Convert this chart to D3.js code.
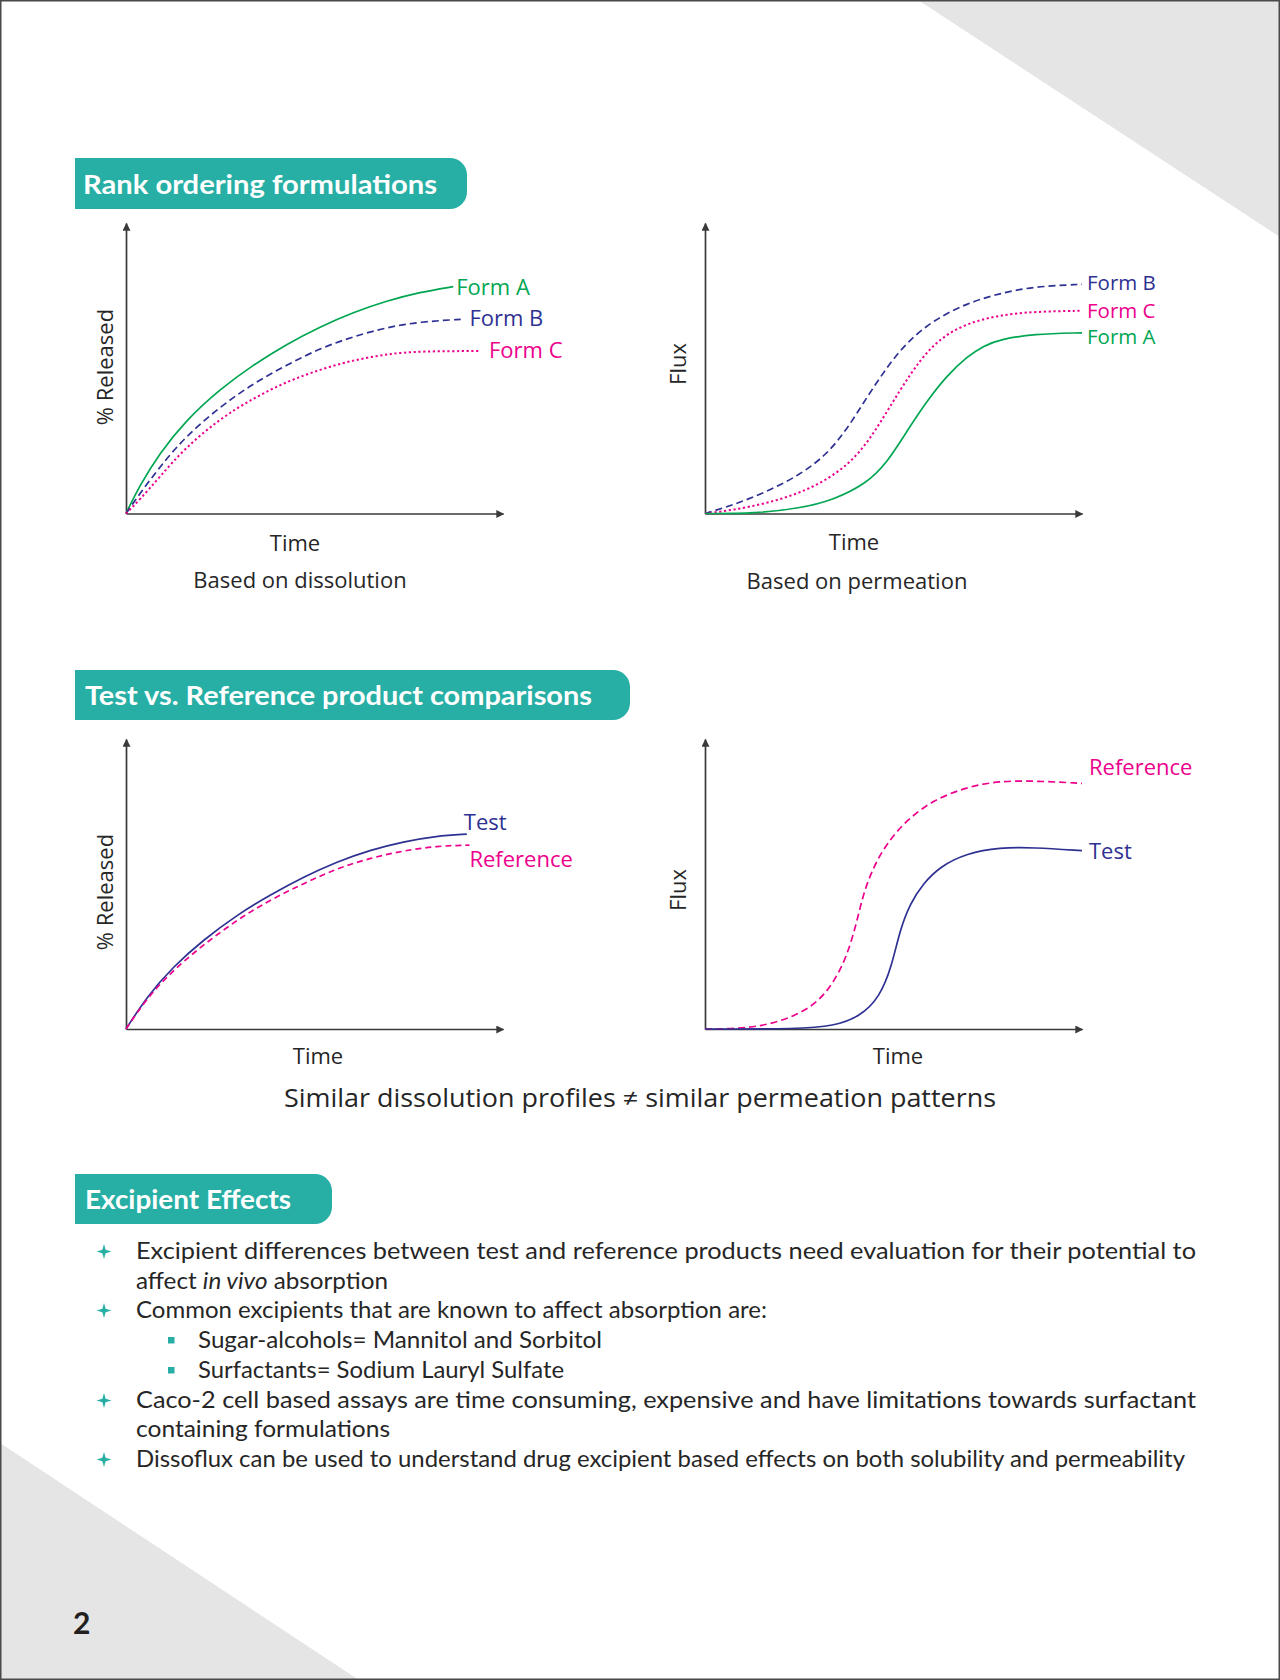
<!DOCTYPE html>
<html><head><meta charset="utf-8">
<script src="https://cdn.jsdelivr.net/npm/d3@7"></script>
<style>html,body{margin:0;padding:0;background:#fff;} svg{display:block;}</style>
</head><body>
<svg id="page" width="1280" height="1680"></svg>
<script>
// ---------------- DATA (normalised units: time 0-100, response 0-100) ----------------
// Chart 1: Rank ordering – based on dissolution (% Released vs Time)
const dissFormA_t = [0, 3.7, 9.0, 15.7, 24.9, 33.8, 42.6, 51.5, 60.3, 69.2, 78.0, 86.8];
const dissFormA_v = [0, 9.8, 20.8, 31.8, 42.8, 51.2, 58.3, 64.3, 69.3, 73.2, 76.2, 78.1];
const dissFormB_t = [0, 3.7, 9.0, 15.7, 24.9, 33.8, 42.6, 51.5, 60.3, 69.2, 78.0, 89.5];
const dissFormB_v = [0, 6.9, 16.1, 26.4, 36.7, 44.8, 51.1, 56.9, 60.9, 64.1, 66.0, 66.9];
const dissFormC_t = [0, 3.7, 9.0, 15.7, 24.9, 33.8, 42.6, 51.5, 60.3, 69.2, 78.0, 93.9];
const dissFormC_v = [0, 4.8, 12.7, 22.6, 32.6, 39.7, 45.4, 49.6, 52.8, 54.9, 55.9, 55.9];

// Chart 2: Rank ordering – based on permeation (Flux vs Time)
const permFormB_t = [0, 7.5, 16.4, 25.2, 32.3, 37.6, 42.9, 48.2, 53.5, 60.6, 69.5, 78.2, 87.1, 100];
const permFormB_v = [0, 2.9, 7.5, 13.3, 20.3, 28.9, 39.9, 50.3, 58.9, 66.6, 72.4, 75.8, 78.1, 78.9];
const permFormC_t = [0, 7.5, 16.4, 25.2, 34.0, 41.1, 46.4, 51.7, 57.0, 62.3, 69.4, 78.2, 87.1, 100];
const permFormC_v = [0, 1.2, 3.5, 7.0, 12.7, 20.7, 31.0, 42.5, 52.8, 60.3, 65.5, 68.3, 69.5, 69.8];
const permFormA_t = [0, 13.3, 25.2, 34.0, 42.9, 48.2, 53.5, 58.8, 64.2, 69.5, 74.0, 78.2, 87.1, 100];
const permFormA_v = [0, 0, 1.8, 4.6, 10.4, 17.3, 28.2, 38.6, 47.5, 54.0, 57.8, 59.9, 61.8, 62.2];

// Chart 3: Test vs Reference – dissolution
const dissTest_t = [0, 5.5, 12.5, 20.5, 29.4, 38.2, 47.2, 56.0, 64.7, 73.6, 82.4, 90.4];
const dissTest_v = [0, 11.1, 21.5, 30.7, 39.3, 46.2, 52.5, 57.7, 61.7, 64.6, 66.6, 67.2];
const dissRef_t  = [0, 5.5, 12.5, 20.5, 29.4, 38.2, 47.2, 56.0, 64.7, 73.6, 82.4, 91.1];
const dissRef_v  = [0, 10.6, 20.3, 29.0, 37.6, 44.5, 50.2, 55.4, 58.9, 61.5, 63.1, 63.4];

// Chart 4: Test vs Reference – permeation
const permRef_t  = [0, 9.3, 16.4, 23.4, 29.6, 34.0, 37.6, 40.2, 42.0, 44.7, 48.2, 53.5, 60.6, 69.5, 78.2, 87.1, 100];
const permRef_v  = [0, 0.1, 1.4, 4.2, 8.8, 15.7, 24.9, 36.4, 46.8, 55.9, 64.0, 72.1, 79.0, 83.5, 85.5, 85.6, 84.7];
const permTest_t = [0, 25.2, 34.0, 41.1, 46.4, 49.5, 51.7, 54.4, 57.9, 62.3, 69.4, 78.2, 87.1, 100];
const permTest_v = [0, 0, 1.0, 4.2, 11.1, 21.5, 34.1, 43.3, 50.2, 56.0, 60.6, 62.6, 62.6, 61.5];

// Text content
const sectionTitles = ["Rank ordering formulations", "Test vs. Reference product comparisons", "Excipient Effects"];
const formNames = ["Form A", "Form B", "Form C"];
const productNames = ["Test", "Reference"];
const axisTitlesY = ["% Released", "Flux", "% Released", "Flux"];
const axisTitleX = "Time";
const chartCaptions = ["Based on dissolution", "Based on permeation"];
const comparisonNote = "Similar dissolution profiles \u2260 similar permeation patterns";
const bulletTexts = [
  "Excipient differences between test and reference products need evaluation for their potential to",
  "affect *in vivo* absorption",
  "Common excipients that are known to affect absorption are:",
  "Sugar-alcohols= Mannitol and Sorbitol",
  "Surfactants= Sodium Lauryl Sulfate",
  "Caco-2 cell based assays are time consuming, expensive and have limitations towards surfactant",
  "containing formulations",
  "Dissoflux can be used to understand drug excipient based effects on both solubility and permeability"
];
const bulletMarkers = ["star", null, "star", "square", "square", "star", null, "star"];
const bulletLevels = [0, 0, 0, 1, 1, 0, 0, 0];
const pageNumber = "2";

// ---------------- STYLE / LAYOUT ----------------
const C = {green: "#00A651", navy: "#2E3192", pink: "#EC008C", teal: "#27AFA5", axis: "#3a3a3a", text: "#262626", grey: "#E5E5E5"};
const chartFont = "'Open Sans', 'DejaVu Sans', sans-serif";
const bodyFont = "Lato, 'Open Sans', sans-serif";

const svg = d3.select("#page");

// background decorations
svg.append("rect").attr("width", 1280).attr("height", 1680).attr("fill", "#fff");
svg.append("path").attr("d", "M918,0 L1280,0 L1280,237 Z").attr("fill", C.grey);
svg.append("path").attr("d", "M0,1443 L359,1680 L0,1680 Z").attr("fill", C.grey);
svg.append("rect").attr("x", 0.75).attr("y", 0.75).attr("width", 1278.5).attr("height", 1678.5)
  .attr("fill", "none").attr("stroke", "#4a4a4a").attr("stroke-width", 1.5);

// arrow marker
svg.append("defs").append("marker")
  .attr("id", "arrow").attr("viewBox", "0 0 10 10").attr("refX", 9).attr("refY", 5)
  .attr("markerUnits", "userSpaceOnUse").attr("markerWidth", 9).attr("markerHeight", 8)
  .attr("orient", "auto")
  .append("path").attr("d", "M0,0 L10,5 L0,10 Z").attr("fill", C.axis);

// section header boxes
function header(text, x0, x1, y0, y1, textX, textW) {
  const r = 17;
  svg.append("path")
    .attr("d", `M${x0},${y0} H${x1 - r} A${r},${r} 0 0 1 ${x1},${y0 + r} V${y1 - r} A${r},${r} 0 0 1 ${x1 - r},${y1} H${x0} Z`)
    .attr("fill", C.teal);
  svg.append("text").attr("x", textX).attr("y", (y0 + y1) / 2 + 10)
    .attr("font-family", bodyFont).attr("font-weight", 700).attr("font-size", 27)
    .attr("fill", "#fff").attr("textLength", textW).attr("lengthAdjust", "spacingAndGlyphs")
    .text(text);
}
header(sectionTitles[0], 75, 467, 158, 209, 83, 354);
header(sectionTitles[1], 75, 630, 670, 720, 85, 507);
header(sectionTitles[2], 75, 332, 1174, 1224, 85, 206);

// generic chart
function chart(cfg) {
  const x = d3.scaleLinear().domain([0, 100]).range([cfg.x0, cfg.x1]);
  const y = d3.scaleLinear().domain([0, 100]).range([cfg.yb, cfg.yt]);
  const g = svg.append("g");

  const ax = g.append("g").attr("transform", `translate(0,${cfg.yb})`)
    .call(d3.axisBottom(x).tickValues([]).tickSizeOuter(0));
  const ay = g.append("g").attr("transform", `translate(${cfg.x0},0)`)
    .call(d3.axisLeft(y).tickValues([]).tickSizeOuter(0));
  [ax, ay].forEach(a => a.select(".domain").attr("stroke", C.axis).attr("stroke-width", 1.7).attr("marker-end", "url(#arrow)"));

  const line = d3.line().x(d => x(d[0])).y(d => y(d[1])).curve(d3.curveBasis);
  cfg.series.forEach(s => {
    const pts = s.t.map((t, i) => [t, s.v[i]]);
    g.append("path").datum(pts).attr("d", line).attr("fill", "none")
      .attr("stroke", s.color).attr("stroke-width", s.width || 1.7)
      .attr("stroke-dasharray", s.dash || null);
    const last = pts[pts.length - 1];
    g.append("text").attr("x", x(last[0]) + s.ldx).attr("y", y(last[1]) + s.ldy).attr("dy", "0.36em")
      .attr("font-family", chartFont).attr("font-size", cfg.labelSize || 22).attr("fill", s.color).text(s.name);
  });

  g.append("text").attr("transform", `translate(${cfg.yLabX},${cfg.yLabY}) rotate(-90)`)
    .attr("text-anchor", "middle").attr("dy", "0.36em")
    .attr("font-family", chartFont).attr("font-size", 22).attr("fill", C.text).text(cfg.yTitle);
  g.append("text").attr("x", cfg.xLabX).attr("y", cfg.xLabY).attr("text-anchor", "middle")
    .attr("font-family", chartFont).attr("font-size", 22).attr("fill", C.text).text(axisTitleX);
  if (cfg.caption) {
    g.append("text").attr("x", cfg.capX).attr("y", cfg.capY).attr("text-anchor", "middle")
      .attr("font-family", chartFont).attr("font-size", 22).attr("fill", C.text).text(cfg.caption);
  }
}

chart({x0: 126, x1: 503, yb: 513.5, yt: 223, yTitle: axisTitlesY[0], yLabX: 105, yLabY: 367,
  xLabX: 295, xLabY: 551, caption: chartCaptions[0], capX: 300, capY: 588,
  series: [
    {name: formNames[0], t: dissFormA_t, v: dissFormA_v, color: C.green, ldx: 3, ldy: 0},
    {name: formNames[1], t: dissFormB_t, v: dissFormB_v, color: C.navy, dash: "7,4", ldx: 6, ldy: -1},
    {name: formNames[2], t: dissFormC_t, v: dissFormC_v, color: C.pink, dash: "2.2,2.6", width: 2, ldx: 9, ldy: -1}
  ]});

chart({x0: 705, x1: 1082, yb: 513.5, yt: 223, yTitle: axisTitlesY[1], yLabX: 678, yLabY: 364,
  xLabX: 854, xLabY: 550, caption: chartCaptions[1], capX: 857, capY: 589, labelSize: 20.5,
  series: [
    {name: formNames[1], t: permFormB_t, v: permFormB_v, color: C.navy, dash: "7,4", ldx: 5, ldy: -1.5},
    {name: formNames[2], t: permFormC_t, v: permFormC_v, color: C.pink, dash: "2.2,2.6", width: 2, ldx: 5, ldy: 0},
    {name: formNames[0], t: permFormA_t, v: permFormA_v, color: C.green, ldx: 5, ldy: 4}
  ]});

chart({x0: 126, x1: 503, yb: 1029, yt: 739, yTitle: axisTitlesY[2], yLabX: 105, yLabY: 892,
  xLabX: 318, xLabY: 1064,
  series: [
    {name: productNames[0], t: dissTest_t, v: dissTest_v, color: C.navy, ldx: -3, ldy: -12.5},
    {name: productNames[1], t: dissRef_t, v: dissRef_v, color: C.pink, dash: "6,4", ldx: 0, ldy: 14}
  ]});

chart({x0: 705, x1: 1082, yb: 1029, yt: 739, yTitle: axisTitlesY[3], yLabX: 678, yLabY: 890,
  xLabX: 898, xLabY: 1064,
  series: [
    {name: productNames[1], t: permRef_t, v: permRef_v, color: C.pink, dash: "7,4", ldx: 7, ldy: -16},
    {name: productNames[0], t: permTest_t, v: permTest_v, color: C.navy, ldx: 7, ldy: 0}
  ]});

svg.append("text").attr("x", 640).attr("y", 1107).attr("text-anchor", "middle")
  .attr("font-family", chartFont).attr("font-size", 25).attr("fill", C.text)
  .attr("textLength", 712).attr("lengthAdjust", "spacingAndGlyphs").text(comparisonNote);

// bullet list
const lineBase = [1259, 1289, 1318, 1348, 1378, 1408, 1437, 1467];
const lineWidth = [1060, 252, 631, 404, 366, 1060, 254, 1049];
const starPath = d3.range(8).map(i => {
  const a = i * Math.PI / 4 - Math.PI / 2, r = i % 2 ? 2.3 : 7.5;
  return [r * Math.cos(a), r * Math.sin(a)];
});
bulletTexts.forEach((t, i) => {
  const tx = bulletLevels[i] ? 198 : 136;
  const yb = lineBase[i];
  if (bulletMarkers[i] === "star") {
    svg.append("path").attr("d", "M" + starPath.join("L") + "Z")
      .attr("transform", `translate(104,${yb - 7.5})`).attr("fill", C.teal);
  } else if (bulletMarkers[i] === "square") {
    svg.append("rect").attr("x", 168).attr("y", yb - 11).attr("width", 6.5).attr("height", 6.5).attr("fill", C.teal);
  }
  const te = svg.append("text").attr("x", tx).attr("y", yb)
    .attr("font-family", bodyFont).attr("font-size", 22.5).attr("fill", C.text)
    .attr("textLength", lineWidth[i]).attr("lengthAdjust", "spacingAndGlyphs");
  t.split("*").forEach((part, k) => {
    te.append("tspan").attr("font-style", k % 2 ? "italic" : null).text(part);
  });
});

svg.append("text").attr("x", 73).attr("y", 1634)
  .attr("font-family", bodyFont).attr("font-weight", 700).attr("font-size", 30)
  .attr("fill", "#231F20").text(pageNumber);
</script>
</body></html>
